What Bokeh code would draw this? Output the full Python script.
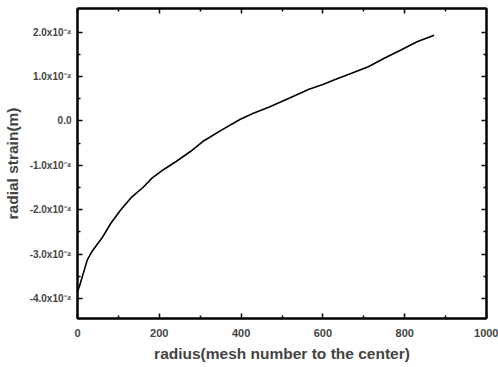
from bokeh.plotting import figure
from bokeh.models import LinearAxis, FixedTicker, CustomJSTickFormatter, Range1d
from bokeh.embed import file_html
from bokeh.resources import INLINE

radius = [0, 5, 12, 24, 34, 61, 82, 106, 131, 160, 182, 210, 242, 276, 307, 350,
          397, 430, 469, 520, 566, 600, 630, 670, 711, 750, 792, 830, 872]
strain = [-3.85e-4, -3.72e-4, -3.5e-4, -3.13e-4, -2.96e-4, -2.62e-4, -2.3e-4, -2.0e-4,
          -1.73e-4, -1.5e-4, -1.29e-4, -1.1e-4, -0.91e-4, -0.69e-4, -0.46e-4, -0.22e-4,
          0.03e-4, 0.17e-4, 0.31e-4, 0.52e-4, 0.71e-4, 0.82e-4, 0.93e-4, 1.07e-4,
          1.22e-4, 1.41e-4, 1.6e-4, 1.78e-4, 1.93e-4]

x_ticks = [0, 200, 400, 600, 800, 1000]
x_minor = [100, 300, 500, 700, 900]
y_ticks = [-4e-4, -3e-4, -2e-4, -1e-4, 0.0, 1e-4, 2e-4]
y_minor = [-3.5e-4, -2.5e-4, -1.5e-4, -0.5e-4, 0.5e-4, 1.5e-4]
y_labels = ["-4.0x10\u207b\u2074", "-3.0x10\u207b\u2074", "-2.0x10\u207b\u2074",
            "-1.0x10\u207b\u2074", "0.0", "1.0x10\u207b\u2074", "2.0x10\u207b\u2074"]

FONT = "Liberation Sans"

p = figure(width=498, height=367, output_backend="svg", toolbar_location=None,
           x_range=Range1d(0, 1000), y_range=Range1d(-4.45e-4, 2.53e-4),
           min_border_left=73, min_border_right=12, min_border_top=8, min_border_bottom=49,
           x_axis_location=None, y_axis_location=None)
p.grid.visible = False
p.outline_line_color = "black"
p.outline_line_width = 2
p.background_fill_color = "white"
p.border_fill_color = "white"

p.line(radius, strain, line_color="black", line_width=1.6)

yfmt = CustomJSTickFormatter(args=dict(labels=y_labels), code="""
const i = Math.round(tick / 1e-4) + 4;
return labels[i];
""")

def style(ax, labels=True):
    ax.major_tick_in = 5
    ax.major_tick_out = 0
    ax.minor_tick_in = 3
    ax.minor_tick_out = 0
    ax.axis_line_width = 2
    ax.major_tick_line_width = 1.5
    ax.minor_tick_line_width = 1.5
    ax.major_label_text_font = FONT
    ax.major_label_text_font_style = "bold"
    ax.axis_label_text_font = FONT
    ax.axis_label_text_font_style = "bold"
    ax.axis_label_text_font_size = "15.5px"
    if not labels:
        ax.major_label_text_font_size = "0px"
        ax.major_label_text_alpha = 0

xb = LinearAxis(ticker=FixedTicker(ticks=x_ticks, minor_ticks=x_minor),
                axis_label="radius(mesh number to the center)")
style(xb)
xb.major_label_text_font_size = "11px"
xb.major_label_standoff = 10
xb.axis_label_standoff = 5
p.add_layout(xb, "below")

yl = LinearAxis(ticker=FixedTicker(ticks=y_ticks, minor_ticks=y_minor),
                axis_label="radial strain(m)", formatter=yfmt)
style(yl)
yl.major_label_text_font_size = "10px"
yl.major_label_standoff = 6
yl.axis_label_standoff = 6
p.add_layout(yl, "left")

xt = LinearAxis(ticker=FixedTicker(ticks=x_ticks, minor_ticks=x_minor))
style(xt, labels=False)
xt.major_label_standoff = 0
p.add_layout(xt, "above")

yr = LinearAxis(ticker=FixedTicker(ticks=y_ticks, minor_ticks=y_minor))
style(yr, labels=False)
yr.major_label_standoff = 0
p.add_layout(yr, "right")

open("out.html", "w").write(file_html(p, INLINE))
